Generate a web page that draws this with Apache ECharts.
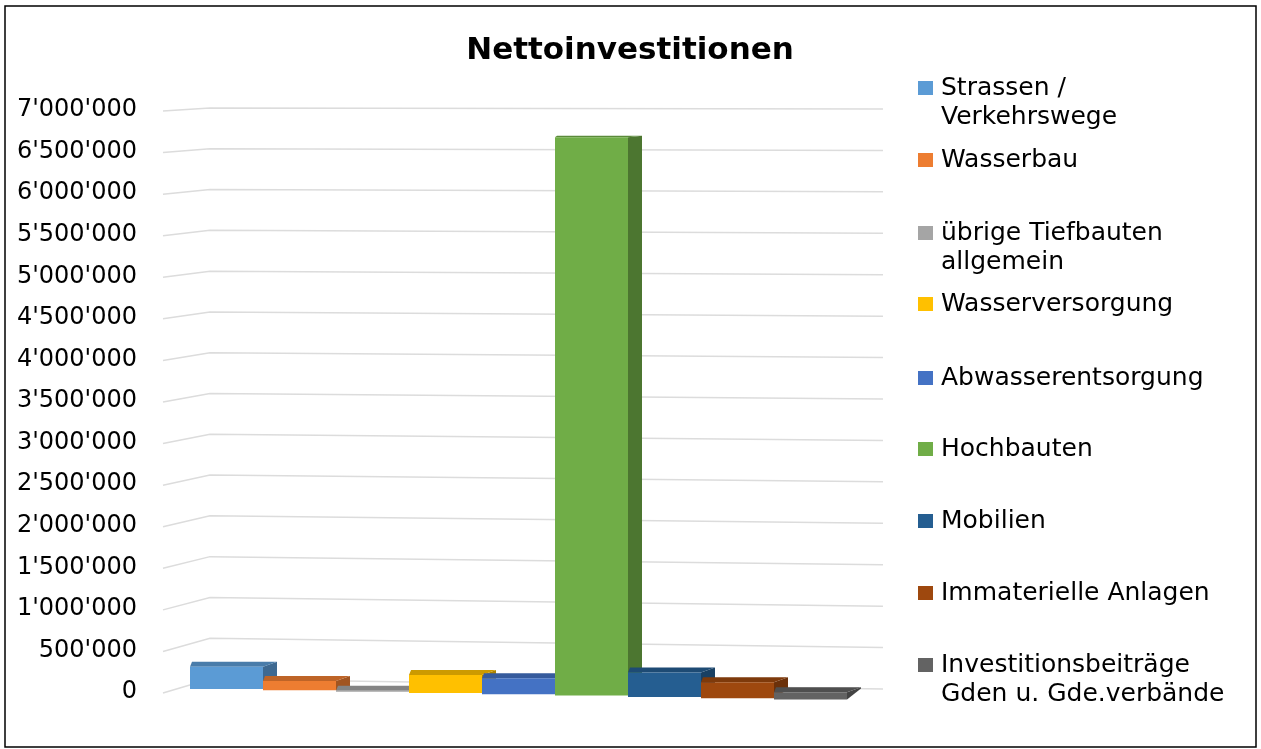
<!DOCTYPE html>
<html>
<head>
<meta charset="utf-8">
<script src="https://cdn.jsdelivr.net/npm/echarts@6/dist/echarts.min.js"></script>
<style>
html,body{margin:0;padding:0;background:#fff;}
#chart{width:1261px;height:749px;}
</style>
</head>
<body>
<div id="chart"></div>
<script>
// ---- data ----
const categories = [
  'Strassen / Verkehrswege',
  'Wasserbau',
  'übrige Tiefbauten allgemein',
  'Wasserversorgung',
  'Abwasserentsorgung',
  'Hochbauten',
  'Mobilien',
  'Immaterielle Anlagen',
  'Investitionsbeiträge Gden u. Gde.verbände'
];
const legendLines = [
  ['Strassen /', 'Verkehrswege'],
  ['Wasserbau'],
  ['übrige Tiefbauten', 'allgemein'],
  ['Wasserversorgung'],
  ['Abwasserentsorgung'],
  ['Hochbauten'],
  ['Mobilien'],
  ['Immaterielle Anlagen'],
  ['Investitionsbeiträge', 'Gden u. Gde.verbände']
];
const values = [265000, 110000, 10000, 215000, 190000, 6650000, 290000, 190000, 85000];
const yTicks = [0, 500000, 1000000, 1500000, 2000000, 2500000, 3000000, 3500000,
                4000000, 4500000, 5000000, 5500000, 6000000, 6500000, 7000000];
const colors = ['#5B9BD5', '#ED7D31', '#A5A5A5', '#FFC000', '#4472C4',
                '#70AD47', '#255E91', '#9E480E', '#636363'];
const yMax = 7000000;

// ---- helpers ----
function shade(hex, f) {
  const n = parseInt(hex.slice(1), 16);
  const r = Math.round(((n >> 16) & 255) * f);
  const g = Math.round(((n >> 8) & 255) * f);
  const b = Math.round((n & 255) * f);
  return 'rgb(' + r + ',' + g + ',' + b + ')';
}
function fmt(v) {
  return String(v).replace(/\B(?=(\d{3})+(?!\d))/g, "'");
}

const chart = echarts.init(document.getElementById('chart'));

function renderBar(params, api) {
  const i = api.value(0), v = api.value(1);
  const p0 = api.coord([i, 0]);
  const p1 = api.coord([i + 1, v]);
  const x0 = p0[0], x1 = p1[0];
  const yb = p0[1] + (-3 + 10.5 * i / 8);
  const h = Math.max(1, (p0[1] - p1[1]) * 1.01);
  const yt = yb - h;
  const t = Math.max(0, Math.min(1, (yt - 137) / 530));
  const dy = -(1.5 + 3.5 * t);
  const dyb = -(2 + 9 * Math.pow(i / 8, 2));
  const dxL = 2, dxR = 14;
  const c = colors[params.seriesIndex - 1];
  return {
    type: 'group',
    children: [
      { type: 'polygon', shape: { points: [[x1, yt], [x1 + dxR, yt + dy], [x1 + dxR, yb + dyb], [x1, yb]] },
        style: { fill: shade(c, 0.68) } },
      { type: 'polygon', shape: { points: [[x0, yt], [x0 + dxL, yt + dy], [x1 + dxR, yt + dy], [x1, yt]] },
        style: { fill: shade(c, 0.8) } },
      { type: 'rect', shape: { x: x0, y: yt, width: x1 - x0, height: h },
        style: { fill: c } }
    ]
  };
}

function renderGrid(params, api) {
  const v = api.value(0);
  const f = 1 - v / yMax;
  const pL = api.coord([-0.37, v]);
  const pB = api.coord([0.274, v]);
  const pR = api.coord([9.493, v]);
  return {
    type: 'polyline',
    shape: { points: [[pL[0], pL[1] + 1], [pB[0], pB[1] - 2 - 11 * f], [pR[0], pR[1] - 1 - 2 * f]] },
    style: { stroke: '#dcdcdc', lineWidth: 1.5, fill: null }
  };
}

const series = [{
  type: 'custom',
  name: '_grid',
  silent: true,
  renderItem: renderGrid,
  data: yTicks.map(v => [v]),
  encode: { y: 0 },
  z: 1
}];
categories.forEach((name, i) => {
  series.push({
    type: 'custom',
    name: name,
    renderItem: renderBar,
    itemStyle: { color: colors[i] },
    data: [[i, values[i]]],
    encode: { x: 0, y: 1 },
    z: 2
  });
});

const firstLineY = [88, 160, 233, 304, 378, 449, 521, 593, 665];
const LH = 29.5;
const legends = categories.map((name, i) => {
  const lines = legendLines[i];
  const txt = lines.length === 2 ? ' \n' + lines[0] + '\n' + lines[1] : lines[0];
  const blockH = (lines.length === 2 ? 3 : 1) * LH;
  return {
    data: [name],
    left: 918,
    top: firstLineY[i] - blockH / 2,
    padding: 0,
    icon: 'rect',
    itemWidth: 15,
    itemHeight: 14,
    formatter: () => txt,
    textStyle: { fontFamily: 'DejaVu Sans', fontSize: 25, lineHeight: LH, color: '#000', padding: [0, 0, 0, 3] },
    selectedMode: false
  };
});

chart.setOption({
  animation: false,
  backgroundColor: '#fff',
  title: {
    text: 'Nettoinvestitionen',
    left: 625,
    textAlign: 'center',
    top: 30,
    textStyle: { fontFamily: 'DejaVu Sans', fontWeight: 'bold', fontSize: 31, color: '#000' }
  },
  legend: legends,
  grid: { left: 190, right: 414, top: 110, bottom: 57 },
  xAxis: { type: 'value', min: 0, max: 9, show: false },
  yAxis: {
    type: 'value', min: 0, max: yMax, interval: 500000,
    axisLine: { show: false }, axisTick: { show: false }, splitLine: { show: false },
    axisLabel: { formatter: fmt, margin: 53, fontFamily: 'DejaVu Sans', fontSize: 24, color: '#000' }
  },
  graphic: [{
    type: 'rect', shape: { x: 5, y: 6, width: 1251, height: 741 },
    style: { fill: null, stroke: '#000', lineWidth: 1.5 }, silent: true, z: 100
  }],
  series: series
});
</script>
</body>
</html>
